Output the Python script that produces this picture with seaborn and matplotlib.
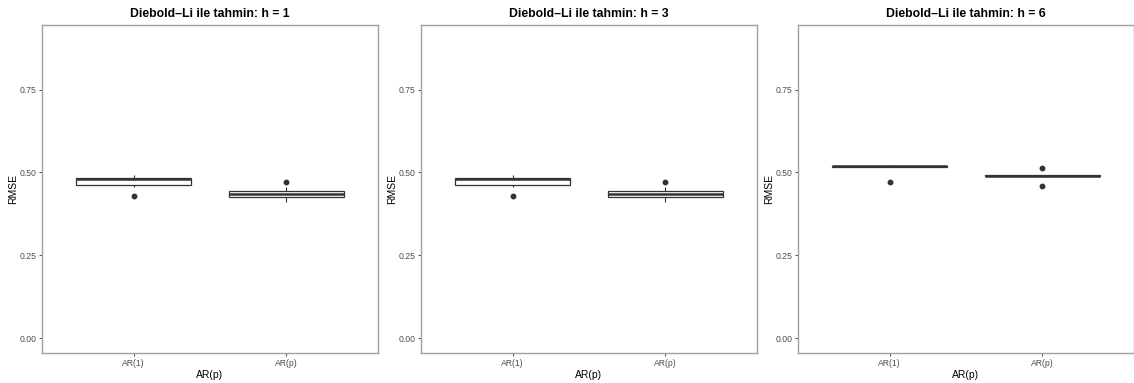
import numpy as np
import pandas as pd
import seaborn as sns
from matplotlib import pyplot as plt

# RMSE values, one list per model and horizon
models = ['AR(1)', 'AR(p)']
horizons = [1, 3, 6]

rmse_h1_ar1 = [0.430, 0.456, 0.463, 0.470, 0.479, 0.480, 0.483, 0.487, 0.492]
rmse_h1_arp = [0.412, 0.420, 0.425, 0.430, 0.434, 0.438, 0.443, 0.455, 0.472]
rmse_h3_ar1 = [0.430, 0.456, 0.463, 0.470, 0.479, 0.480, 0.483, 0.487, 0.492]
rmse_h3_arp = [0.412, 0.420, 0.425, 0.430, 0.434, 0.438, 0.443, 0.455, 0.472]
rmse_h6_ar1 = [0.470, 0.515, 0.516, 0.517, 0.518, 0.519, 0.520, 0.521, 0.523]
rmse_h6_arp = [0.459, 0.489, 0.489, 0.490, 0.490, 0.490, 0.491, 0.491, 0.512]

y_ticks = [0.00, 0.25, 0.50, 0.75]

series = {
    1: (rmse_h1_ar1, rmse_h1_arp),
    3: (rmse_h3_ar1, rmse_h3_arp),
    6: (rmse_h6_ar1, rmse_h6_arp),
}

sns.set_theme(style='white')
plt.rcParams['font.family'] = ['Liberation Sans', 'DejaVu Sans']

fig = plt.figure(figsize=(11.34, 3.83), dpi=100)
lefts = [42 / 1134, 421 / 1134, 798 / 1134]
width = 336 / 1134
bottom = 1 - 353 / 383
height = (353 - 25) / 383

for left, h in zip(lefts, horizons):
    ar1, arp = series[h]
    df = pd.DataFrame({
        'model': [models[0]] * len(ar1) + [models[1]] * len(arp),
        'rmse': ar1 + arp,
    })
    ax = fig.add_axes([left, bottom, width, height])
    sns.boxplot(data=df, x='model', y='rmse', order=models, ax=ax,
                color='white', linecolor='#333333', linewidth=0.9, width=0.75,
                fliersize=3.2,
                flierprops=dict(marker='o', markerfacecolor='#333333',
                                markeredgecolor='#333333'),
                capprops=dict(linewidth=0),
                whiskerprops=dict(linewidth=0.8),
                medianprops=dict(linewidth=1.8, color='#333333'))
    ax.set_xlim(-0.6, 1.6)
    ax.set_ylim(-0.045, 0.945)
    ax.set_yticks(y_ticks)
    ax.set_yticklabels([f'{t:.2f}' for t in y_ticks])
    ax.tick_params(axis='both', length=2.5, width=0.6, color='#333333',
                   labelsize=6.2, labelcolor='#4d4d4d', pad=1.5)
    ax.tick_params(axis='x', bottom=True)
    ax.tick_params(axis='y', left=True)
    for sp in ax.spines.values():
        sp.set_color('#a0a0a0')
        sp.set_linewidth(1.0)
    ax.set_xlabel('AR(p)', fontsize=7.5, color='black', labelpad=2)
    ax.set_ylabel('RMSE', fontsize=7.5, color='black')
    ax.yaxis.set_label_coords(-0.071, 0.5)
    ax.set_title(f'Diebold\u2013Li ile tahmin: h = {h}', fontsize=8.8,
                 fontweight='bold', color='black', pad=6)

fig.savefig('out.png', dpi=100)
